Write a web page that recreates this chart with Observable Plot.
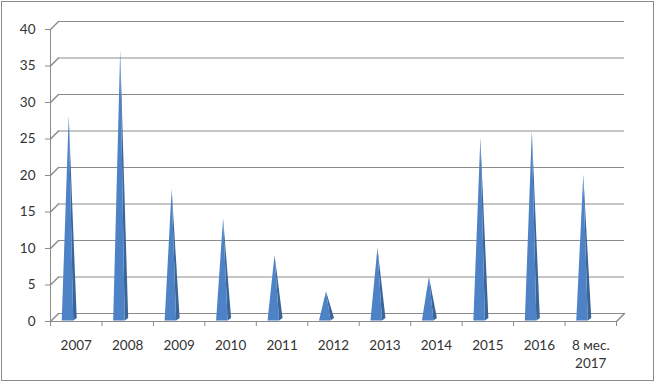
<!DOCTYPE html>
<html><head><meta charset="utf-8">
<script src="https://cdn.jsdelivr.net/npm/d3@7"></script>
<script src="https://cdn.jsdelivr.net/npm/@observablehq/plot@0.6"></script>
<style>
body{margin:0;background:#fff;}
#chart svg{display:block;outline:1px solid #8a8a8a;outline-offset:-2px;background:#fff;}
</style></head><body><div id="chart"></div>
<script>
const categories = ["2007","2008","2009","2010","2011","2012","2013","2014","2015","2016","8 мес.\n2017"];
const values = [28,37,18,14,9,4,10,6,25,26,20];
const yTicks = [0,5,10,15,20,25,30,35,40];

const W = 655, H = 382;
const mL = 50, mR = 39, mT = 29, mB = 61;
const depth = 8;
const gridColor = "#8c8c8c";
const textColor = "#333333";
const font = "Lato, 'Open Sans', sans-serif";

const rows = categories.map((c, i) => ({label: c, pos: i + 0.5, value: values[i]}));
const bounds = d3.range(categories.length + 1);

const lineShape = {draw(ctx, l) { ctx.moveTo(0, 0); ctx.lineTo(0, -l); }};
const frontShape = {draw(ctx, l) { ctx.moveTo(-7, 0); ctx.lineTo(4.5, 0); ctx.lineTo(0, -l); ctx.closePath(); }};
const sideShape = {draw(ctx, l) { ctx.moveTo(4.5, 0); ctx.lineTo(8, -2.5); ctx.lineTo(0, -l); ctx.closePath(); }};

const chart = Plot.plot({
  width: W, height: H,
  marginLeft: mL, marginRight: mR, marginTop: mT, marginBottom: mB,
  style: {fontFamily: font, fontSize: "13.5px", color: textColor, background: "#fff"},
  x: {type: "linear", domain: [0, categories.length], axis: null},
  y: {type: "linear", domain: [0, 40], axis: null},
  length: {type: "linear", domain: [0, 40], range: [0, H - mT - mB]},
  marks: [
    Plot.ruleY(yTicks, {dx: depth, dy: -depth, stroke: gridColor, strokeWidth: 1}),
    Plot.vector(yTicks, {x: 0, y: d => d, length: depth * Math.SQRT2, rotate: 45, anchor: "start", shape: lineShape, stroke: gridColor}),
    Plot.vector([0], {x: categories.length, y: d => d, length: depth * Math.SQRT2, rotate: 45, anchor: "start", shape: lineShape, stroke: gridColor}),
    Plot.ruleX([0], {y1: 0, y2: 40, stroke: gridColor}),
    Plot.ruleY([0], {stroke: gridColor}),
    Plot.vector(rows, {x: "pos", y: 0, length: "value", rotate: 0, anchor: "start", shape: sideShape, fill: "#3a6599", stroke: "none", dx: -7.5, dy: -1}),
    Plot.vector(rows, {x: "pos", y: 0, length: "value", rotate: 0, anchor: "start", shape: frontShape, fill: "#4d82c6", stroke: "none", dx: -7.5, dy: -1}),
    Plot.axisY(yTicks, {tickSize: 5, tickPadding: 10, stroke: gridColor, fill: textColor, fontSize: 13.5, label: null}),
    Plot.axisX(bounds, {tickSize: 5, tickFormat: () => "", stroke: gridColor, label: null}),
    Plot.text(rows, {x: "pos", y: 0, text: "label", lineAnchor: "top", dy: 16, lineHeight: 1.33, fontSize: 13.5, fill: textColor})
  ]
});
document.getElementById("chart").appendChild(chart);
</script></body></html>
